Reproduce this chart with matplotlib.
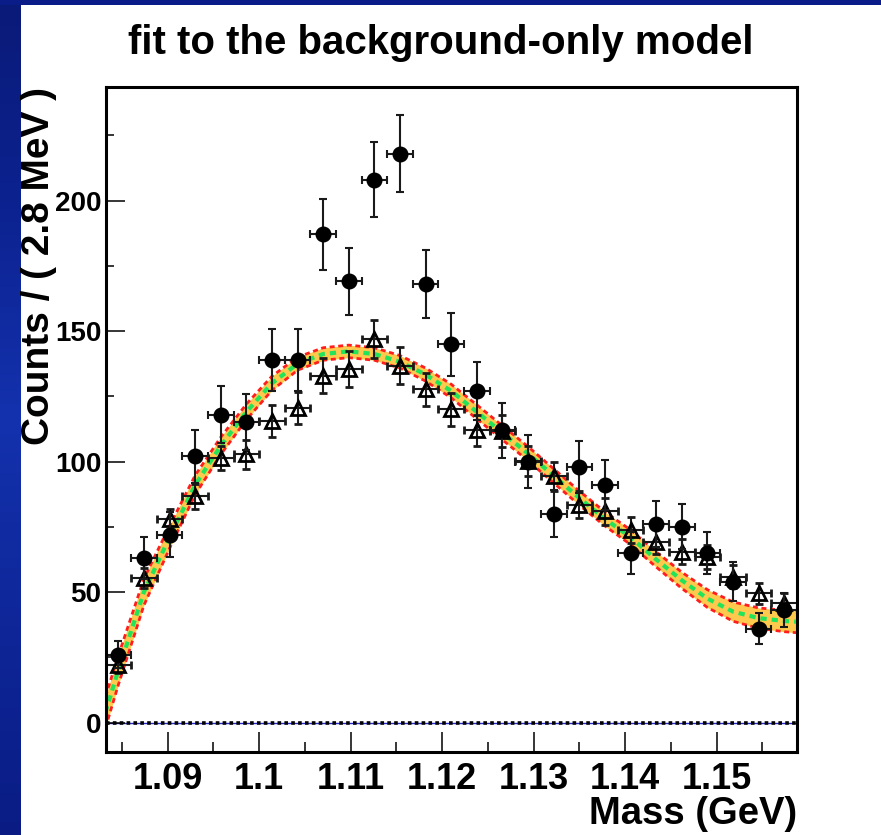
import numpy as np
import matplotlib
matplotlib.use('Agg')
import matplotlib.pyplot as plt
from matplotlib.ticker import FixedLocator, FixedFormatter
from matplotlib.colors import LinearSegmentedColormap

# bin centres (GeV), bin width 2.8 MeV
mass = [1.0846, 1.0874, 1.0902, 1.0930, 1.0958, 1.0986, 1.1014, 1.1042, 1.1070,
        1.1098, 1.1126, 1.1154, 1.1182, 1.1210, 1.1238, 1.1266, 1.1294, 1.1322,
        1.1350, 1.1378, 1.1406, 1.1434, 1.1462, 1.1490, 1.1518, 1.1546, 1.1574]

# filled circles: data
data_counts = [26, 63, 72, 102, 118, 115, 139, 139, 187, 169, 208, 218, 168, 145,
               127, 112, 100, 80, 98, 91, 65, 76, 75, 65, 54, 36, 43]

# open triangles: scaled sample
tri_counts = [22, 55.3, 78, 86.6, 101.5, 102.7, 115.5, 120.6, 132.8, 135.4, 146.9,
              136.7, 127.7, 120, 112, 111.7, 100.1, 94.3, 83.5, 80.9, 73.8, 69.3,
              65.5, 63.6, 55.9, 49.5, 45.6]
tri_err = [2.9, 3.8, 3.9, 4.8, 4.6, 5.4, 6.0, 6.1, 6.7, 6.9, 7.3, 7.0, 6.4, 6.4,
           5.9, 6.1, 5.8, 5.6, 5.3, 5.2, 5.0, 4.8, 4.7, 4.6, 4.3, 4.1, 3.9]

# background-only fit curve and its error band
curve_mass = [1.0832] + mass + [1.1588]
curve_val = [4, 20, 50, 71, 91, 106, 119, 130, 137.5, 141.2, 142.2, 141.2, 138.2,
             133.3, 127, 119, 111, 103, 94.5, 86, 78, 71, 62.5, 54.5, 47.5, 42.5,
             40, 38.9, 38.6]
curve_err = [6, 5.6, 5.1, 4.3, 3.7, 3.3, 3.0, 2.7, 2.5, 2.4, 2.4, 2.4, 2.4, 2.5,
             2.6, 2.7, 2.7, 2.7, 2.7, 2.7, 2.7, 2.8, 2.9, 3.1, 3.4, 3.7, 3.9, 4.1, 4.2]

x_major = [1.09, 1.10, 1.11, 1.12, 1.13, 1.14, 1.15]
x_labels = ['1.09', '1.1', '1.11', '1.12', '1.13', '1.14', '1.15']
x_minor = [1.085, 1.095, 1.105, 1.115, 1.125, 1.135, 1.145, 1.155]
y_major = [0, 50, 100, 150, 200]
y_minor = [25, 75, 125, 175, 225]

plt.rcParams['font.family'] = ['Liberation Sans', 'DejaVu Sans']
plt.rcParams['font.weight'] = 'bold'

W, H = 881, 835
fig = plt.figure(figsize=(W / 100, H / 100), dpi=100)
fig.patch.set_facecolor('white')

# blue slide border (left strip and top band)
border = LinearSegmentedColormap.from_list(
    'border', ['#0A1A78', '#0C2290', '#1432AE', '#0E2698', '#0A1C84'])
strip = fig.add_axes([0, 0, 21 / W, 1])
strip.imshow(np.linspace(0, 1, 256).reshape(-1, 1), cmap=border, aspect='auto')
strip.axis('off')
top = fig.add_axes([0, 1 - 5 / H, 1, 5 / H])
top.set_facecolor('#0A1C88')
top.set_xticks([])
top.set_yticks([])
for s in top.spines.values():
    s.set_visible(False)

ax = fig.add_axes([105.5 / W, 83 / H, 691.5 / W, 665 / H])
ax.set_xlim(1.0832, 1.1588)
ax.set_ylim(-11.3, 243.5)

cm = np.array(curve_mass)
cv = np.array(curve_val)
ce = np.array(curve_err)
ax.fill_between(cm, cv - ce, cv + ce, color='#FFC94D', lw=0, zorder=2)
ax.plot(cm, cv - ce, color='#FF1E1E', lw=2.0, dashes=(1.8, 1.3), zorder=3)
ax.plot(cm, cv + ce, color='#FF1E1E', lw=2.0, dashes=(1.8, 1.3), zorder=3)
ax.plot(cm, cv, color='#22E35A', lw=3.0, dashes=(1.5, 1.2), zorder=3)

# zero line
ax.axhline(0, color='#2828C8', lw=1.0, zorder=1)
ax.axhline(0, color='black', lw=2.6, dashes=(1.0, 0.9), zorder=2)
ax.plot([1.0832, 1.0832], [-11.3, 0], color='#2828C8', lw=2, zorder=1)

ax.errorbar(mass, tri_counts, xerr=0.0014, yerr=tri_err, fmt='^', ms=10.5,
            mfc='none', mec='black', mew=2.0, ecolor='#1A1A1A', elinewidth=1.5,
            capsize=3, capthick=1.5, zorder=4)
ax.errorbar(mass, data_counts, xerr=0.0014, yerr=np.sqrt(data_counts), fmt='o',
            ms=10.5, mfc='black', mec='black', ecolor='#1A1A1A', elinewidth=1.5,
            capsize=3, capthick=1.5, zorder=5)

for s in ax.spines.values():
    s.set_linewidth(2.2)
    s.set_color('black')
    s.set_zorder(6)

ax.xaxis.set_major_locator(FixedLocator(x_major))
ax.xaxis.set_major_formatter(FixedFormatter(x_labels))
ax.xaxis.set_minor_locator(FixedLocator(x_minor))
ax.yaxis.set_major_locator(FixedLocator(y_major))
ax.yaxis.set_minor_locator(FixedLocator(y_minor))
ax.tick_params(axis='x', which='major', direction='in', length=14.4, width=1.1,
               labelsize=26, pad=7)
ax.tick_params(axis='x', which='minor', direction='in', length=7.2, width=1.1)
ax.tick_params(axis='y', which='major', direction='in', length=13.7, width=1.1,
               labelsize=20, pad=3)
ax.tick_params(axis='y', which='minor', direction='in', length=6, width=1.1)
for lab in ax.get_xticklabels() + ax.get_yticklabels():
    lab.set_fontweight('bold')

fig.text(0.5, 1 - 43 / H, 'fit to the background-only model', ha='center',
         va='center', fontsize=29, fontweight='bold')
fig.text(797 / W, 1 - 814 / H, 'Mass (GeV)', ha='right', va='center',
         fontsize=27.5, fontweight='bold')
fig.text(39 / W, 1 - 87 / H, 'Counts / ( 2.8 MeV )', ha='center', va='top',
         rotation=90, fontsize=28, fontweight='bold')

fig.savefig('out.png', dpi=100)
